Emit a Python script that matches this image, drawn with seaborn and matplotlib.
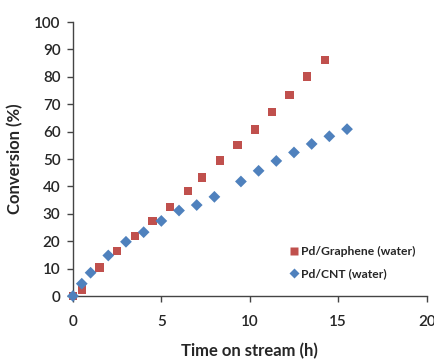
import matplotlib
matplotlib.use("Agg")
import matplotlib.pyplot as plt
import seaborn as sns
import pandas as pd

graphene_t = [0, 0.5, 1.5, 2.5, 3.5, 4.5, 5.5, 6.5, 7.3, 8.3, 9.3, 10.3, 11.25, 12.25, 13.25, 14.25]
graphene_c = [0, 2.4, 10.4, 16.5, 21.8, 27.3, 32.6, 38.3, 43.2, 49.4, 55.1, 60.8, 67.1, 73.4, 80.1, 86.2]
cnt_t = [0, 0.5, 1, 2, 3, 4, 5, 6, 7, 8, 9.5, 10.5, 11.5, 12.5, 13.5, 14.5, 15.5]
cnt_c = [0, 4.5, 8.5, 14.8, 19.8, 23.3, 27.4, 31.2, 33.2, 36.2, 41.8, 45.7, 49.3, 52.4, 55.5, 58.3, 60.9]
labels = ["Pd/Graphene (water)", "Pd/CNT (water)"]

df = pd.concat([
    pd.DataFrame({"t": graphene_t, "c": graphene_c, "s": labels[0]}),
    pd.DataFrame({"t": cnt_t, "c": cnt_c, "s": labels[1]}),
])

sns.set_theme(style="ticks")
plt.rcParams['font.family'] = ['Lato', 'DejaVu Sans']

fig = plt.figure(figsize=(4.34, 3.61), dpi=100)
ax = fig.add_axes([0.168, 0.18, 0.815, 0.759])

sns.scatterplot(data=df, x="t", y="c", hue="s", style="s",
                palette={labels[0]: "#C0504D", labels[1]: "#4F81BD"},
                markers={labels[0]: "s", labels[1]: "D"},
                s=36, edgecolor="none", ax=ax, clip_on=False, zorder=3)
for coll, sz in zip(ax.collections, [36, 26]):
    coll.set_sizes([sz])

ax.set_xlim(0, 20)
ax.set_ylim(0, 100)
ax.set_xticks(range(0, 21, 5))
ax.set_yticks(range(0, 101, 10))
ax.set_xlabel("Time on stream (h)", fontsize=12, fontweight="bold", labelpad=10)
ax.set_ylabel("Conversion (%)", fontsize=12, fontweight="bold", labelpad=8)
ax.tick_params(axis="both", labelsize=11, length=4, width=1, color="#444444", pad=5)
ax.tick_params(axis="x", pad=10)
for lab in ax.get_xticklabels() + ax.get_yticklabels():
    lab.set_fontweight("semibold")
for sp in ["left", "bottom"]:
    ax.spines[sp].set_color("#444444")
    ax.spines[sp].set_linewidth(1)
sns.despine(ax=ax)

h, l = ax.get_legend_handles_labels()
for hd, ms in zip(h, [6.0, 5.0]):
    try:
        hd.set_markersize(ms)
    except AttributeError:
        hd.set_sizes([ms ** 2])
ax.legend(h, l, loc="lower right", bbox_to_anchor=(1.0, 0.02), frameon=False,
          handletextpad=0.0, labelspacing=0.95, markerscale=1.0, handlelength=1.2,
          prop={"weight": "bold", "size": 8.7})

fig.savefig("out.png", dpi=100)
